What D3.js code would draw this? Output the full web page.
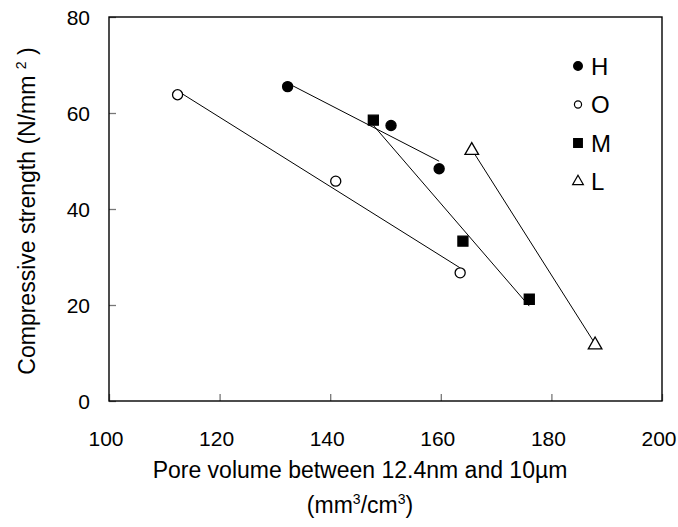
<!DOCTYPE html>
<html>
<head>
<meta charset="utf-8">
<script src="https://cdn.jsdelivr.net/npm/d3@7"></script>
<style>
  body { margin: 0; background: #fff; }
  text { font-family: "Liberation Sans", Arial, sans-serif; fill: #000; }
</style>
</head>
<body>
<div id="chart"></div>
<script>
// data
let seriesNames = ["H", "O", "M", "L"];
let poreH = [132.3, 151.0, 159.7];
let strengthH = [65.5, 57.4, 48.4];
let poreO = [112.4, 141.0, 163.5];
let strengthO = [63.8, 45.8, 26.7];
let poreM = [147.8, 164.0, 176.0];
let strengthM = [58.5, 33.3, 21.2];
let poreL = [165.6, 187.9];
let strengthL = [52.4, 11.9];
let xTicks = [100, 120, 140, 160, 180, 200];
let yTicks = [0, 20, 40, 60, 80];

let width = 678;
let height = 527;
let margin = {top: 17, right: 16, bottom: 126, left: 109};

let series = [
  {name: "H", x: poreH, y: strengthH, symbol: "circle", fill: "#000"},
  {name: "O", x: poreO, y: strengthO, symbol: "circle", fill: "#fff"},
  {name: "M", x: poreM, y: strengthM, symbol: "square", fill: "#000"},
  {name: "L", x: poreL, y: strengthL, symbol: "triangle", fill: "#fff"}
];

let x = d3.scaleLinear().domain([100, 200])
  .range([margin.left, width - margin.right]);
let y = d3.scaleLinear().domain([0, 80])
  .range([height - margin.bottom, margin.top]);

let svg = d3.select("#chart").append("svg")
  .attr("width", width)
  .attr("height", height);

// inward ticks, labels drawn separately
svg.append("g")
  .attr("transform", "translate(0," + y(0) + ")")
  .call(d3.axisTop(x).tickValues(xTicks).tickSize(7).tickFormat(""))
  .call(g => g.select(".domain").remove())
  .selectAll("line").attr("stroke", "#777").attr("stroke-width", 1.3);

svg.append("g")
  .attr("transform", "translate(" + x(100) + ",0)")
  .call(d3.axisRight(y).tickValues(yTicks).tickSize(7).tickFormat(""))
  .call(g => g.select(".domain").remove())
  .selectAll("line").attr("stroke", "#777").attr("stroke-width", 1.3);

// frame
svg.append("rect")
  .attr("x", x(100))
  .attr("y", y(80))
  .attr("width", x(200) - x(100))
  .attr("height", y(0) - y(80))
  .attr("fill", "none")
  .attr("stroke", "#000")
  .attr("stroke-width", 1.4);

svg.append("g").selectAll("text")
  .data(xTicks)
  .enter().append("text")
  .attr("x", d => x(d) - 3)
  .attr("y", y(0) + 45)
  .attr("text-anchor", "middle")
  .style("font-size", "21px")
  .text(d => d);

svg.append("g").selectAll("text")
  .data(yTicks)
  .enter().append("text")
  .attr("x", x(100) - 19)
  .attr("y", d => y(d) + 7.5)
  .attr("text-anchor", "end")
  .style("font-size", "21px")
  .text(d => d);

// axis titles
let titleX = 360;

svg.append("text")
  .attr("x", titleX)
  .attr("y", 478)
  .attr("text-anchor", "middle")
  .style("font-size", "23px")
  .text("Pore volume between 12.4nm and 10\u00b5m");

let xt2 = svg.append("text")
  .attr("x", titleX)
  .attr("y", 513)
  .attr("text-anchor", "middle")
  .style("font-size", "23px");
xt2.append("tspan").text("(mm");
xt2.append("tspan").attr("dy", -9).style("font-size", "14px").text("3");
xt2.append("tspan").attr("dy", 9).text("/cm");
xt2.append("tspan").attr("dy", -9).style("font-size", "14px").text("3");
xt2.append("tspan").attr("dy", 9).text(")");

let yt = svg.append("text")
  .attr("transform", "translate(35,211) rotate(-90)")
  .attr("text-anchor", "middle")
  .style("font-size", "23px");
yt.append("tspan").text("Compressive strength (N/mm ");
yt.append("tspan").attr("dy", -9).style("font-size", "14px").text("2");
yt.append("tspan").attr("dy", 9).text(" )");

// least squares line for each series, drawn over its own x range
function fit(xs, ys) {
  let mx = d3.mean(xs), my = d3.mean(ys);
  let sxy = d3.sum(xs, (v, i) => (v - mx) * (ys[i] - my));
  let sxx = d3.sum(xs, v => (v - mx) * (v - mx));
  let b = sxy / sxx;
  let a = my - b * mx;
  let ext = d3.extent(xs);
  return ext.map(v => [v, a + b * v]);
}

let line = d3.line().x(d => x(d[0])).y(d => y(d[1]));

svg.append("g").selectAll("path")
  .data(series)
  .enter().append("path")
  .attr("d", d => line(fit(d.x, d.y)))
  .attr("fill", "none")
  .attr("stroke", "#000")
  .attr("stroke-width", 1);

function symbolPath(s, size) {
  let t = s == "circle" ? d3.symbolCircle : s == "square" ? d3.symbolSquare : d3.symbolTriangle;
  return d3.symbol().type(t).size(size)();
}

series.forEach(s => {
  svg.append("g").selectAll("path")
    .data(s.x.map((v, i) => [v, s.y[i]]))
    .enter().append("path")
    .attr("transform", d => "translate(" + x(d[0]) + "," + (y(d[1]) + (s.symbol == "triangle" ? 1 : 0)) + ")")
    .attr("d", symbolPath(s.symbol, s.symbol == "circle" ? 80 : s.symbol == "square" ? 100 : 80))
    .attr("fill", s.fill)
    .attr("stroke", "#000")
    .attr("stroke-width", 1.3);
});

// legend
let legend = svg.append("g").selectAll("g")
  .data(series)
  .enter().append("g")
  .attr("transform", (d, i) => "translate(578," + (66 + i * 38.5) + ")");

legend.append("path")
  .attr("d", d => symbolPath(d.symbol, d.symbol == "circle" ? (d.fill == "#000" ? 60 : 40) : d.symbol == "square" ? 75 : 50))
  .attr("fill", d => d.fill)
  .attr("stroke", "#000")
  .attr("stroke-width", 1.2);

legend.append("text")
  .attr("x", 13)
  .attr("y", 8.5)
  .style("font-size", "24px")
  .text(d => d.name);
</script>
</body>
</html>
